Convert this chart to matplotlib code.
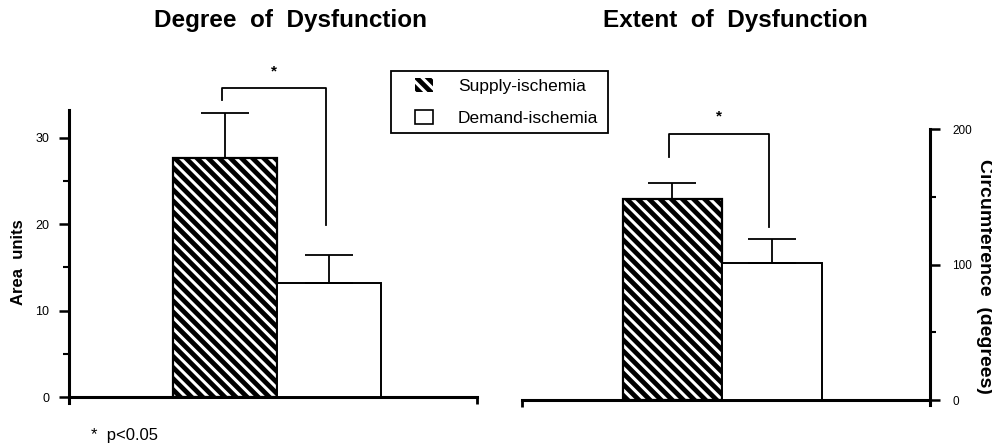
import matplotlib
matplotlib.use("Agg")
import matplotlib.pyplot as plt
from matplotlib.patches import Patch, Rectangle

plt.rcParams['font.family'] = ['Liberation Sans', 'DejaVu Sans']
plt.rcParams['hatch.color'] = 'white'
plt.rcParams['hatch.linewidth'] = 2.2

# ---- data ----
groups = ["Supply-ischemia", "Demand-ischemia"]
degree_mean = [27.6, 13.2]          # area units
degree_sem = [5.2, 3.2]
extent_mean = [148, 101]            # degrees of circumference
extent_sem = [12, 18]
degree_yticks = [0, 10, 20, 30]
degree_minor = [5, 15, 25]
extent_yticks = [0, 100, 200]
extent_minor = [50, 150]
# significance brackets: (left leg bottom, top, right leg bottom, star y)
degree_bracket = [34.4, 35.8, 19.9, 37.6]
extent_bracket = [179, 196, 128, 209]

W, H = 992, 444
fig = plt.figure(figsize=(W / 100, H / 100), dpi=100)

def fx(px):
    return px / W

def fy(py):
    return 1 - py / H

HATCH = '\\\\\\'

def draw_panel(ax, means, sems, bracket, ylim):
    x = [0, 1]
    # hatched bar: black face with white stripes
    ax.bar(x[0], means[0], width=1.0, color='black', hatch=HATCH, edgecolor='white',
           linewidth=0, zorder=2)
    ax.bar(x[0], means[0], width=1.0, fill=False, edgecolor='black', linewidth=1.6, zorder=3)
    ax.bar(x[1], means[1], width=1.0, color='white', edgecolor='black', linewidth=1.4, zorder=3)
    ax.errorbar(x, means, yerr=[[0, 0], sems], fmt='none', ecolor='black',
                elinewidth=1.3, capsize=17, capthick=1.3, zorder=4)
    lb, top, rb, sy = bracket
    off = 0.03
    ax.plot([x[0] - off, x[0] - off, x[1] - off, x[1] - off], [lb, top, top, rb],
            color='black', lw=1.3, clip_on=False, zorder=4)
    ax.text((x[0] + x[1]) / 2 - off, sy, '*', ha='center', va='center', fontsize=11,
            fontweight='bold', clip_on=False)
    ax.set_ylim(0, ylim)

# ---- left panel ----
axL = fig.add_axes([fx(69), fy(397), fx(477) - fx(69), fy(110) - fy(397)])
draw_panel(axL, degree_mean, degree_sem, degree_bracket, 33.2)
axL.set_xlim(-1.5, 2.42)
for s in ['top', 'right']:
    axL.spines[s].set_visible(False)
axL.spines['left'].set_linewidth(2.2)
axL.spines['bottom'].set_linewidth(2.2)
axL.spines['left'].set_bounds(-0.7, 33.2)
axL.set_yticks(degree_yticks)
axL.set_yticks(degree_minor, minor=True)
axL.tick_params(axis='y', which='major', length=7, width=1.8, pad=7, labelsize=9)
axL.tick_params(axis='y', which='minor', length=4, width=1.5)
axL.set_xticks([2.42])
axL.set_xticklabels([])
axL.tick_params(axis='x', length=5, width=2.0)

# ---- right panel ----
axR = fig.add_axes([fx(522), fy(400), fx(930) - fx(522), fy(129) - fy(400)])
draw_panel(axR, extent_mean, extent_sem, extent_bracket, 200)
axR.set_xlim(-1.51, 2.59)
for s in ['top', 'left']:
    axR.spines[s].set_visible(False)
axR.spines['right'].set_linewidth(2.2)
axR.spines['bottom'].set_linewidth(2.2)
axR.spines['right'].set_bounds(-4, 200)
axR.yaxis.tick_right()
axR.set_yticks(extent_yticks)
axR.set_yticks(extent_minor, minor=True)
axR.tick_params(axis='y', which='major', length=7, width=1.8, pad=9, labelsize=8.5)
axR.tick_params(axis='y', which='minor', length=4, width=1.5)
axR.set_xticks([-1.51])
axR.set_xticklabels([])
axR.tick_params(axis='x', length=5, width=2.0)

# ---- titles and labels ----
fig.text(fx(290), fy(20), 'Degree  of  Dysfunction', ha='center', va='center',
         fontsize=17.5, fontweight='bold')
fig.text(fx(735), fy(20), 'Extent  of  Dysfunction', ha='center', va='center',
         fontsize=17.5, fontweight='bold')
fig.text(fx(19), fy(262), 'Area  units', rotation=90, ha='center', va='center',
         fontsize=12, fontweight='bold')
fig.text(fx(984), fy(276), 'Circumference  (degrees)', rotation=270, ha='center',
         va='center', fontsize=14, fontweight='bold')
fig.text(fx(91), fy(435), '*  p<0.05', ha='left', va='center', fontsize=12)

# ---- legend ----
handles = [Patch(facecolor='black', edgecolor='white', hatch=HATCH, linewidth=0),
           Patch(facecolor='white', edgecolor='black', linewidth=1.2)]
leg = fig.legend(handles, groups, loc='upper left', bbox_to_anchor=(fx(415), fy(78)),
                 fontsize=12.5, frameon=False, handlelength=1.03,
                 handleheight=0.86, handletextpad=1.44, labelspacing=0.9,
                 borderpad=0, borderaxespad=0)
fig.add_artist(Rectangle((fx(391), fy(133)), fx(608) - fx(391), fy(71) - fy(133),
                         transform=fig.transFigure, fill=False, edgecolor='black',
                         linewidth=1.3))

fig.savefig('out.png', dpi=100)
